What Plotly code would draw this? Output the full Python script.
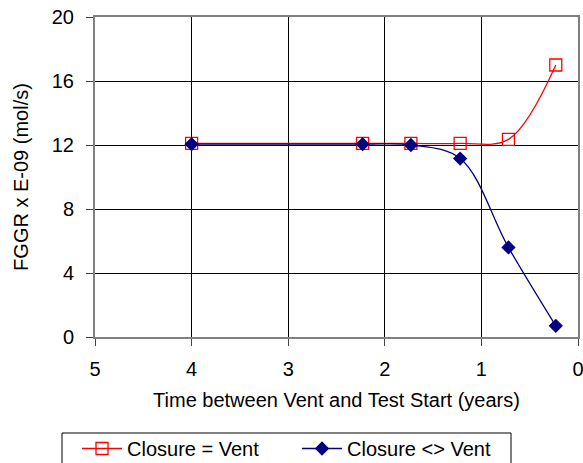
import plotly.graph_objects as go

# Data
years_vent = [4.0, 2.23, 1.73, 1.22, 0.72, 0.23]
fggr_vent = [12.1, 12.1, 12.1, 12.1, 12.35, 17.0]

years_other = [4.0, 2.23, 1.73, 1.22, 0.72, 0.23]
fggr_other = [12.05, 12.05, 12.0, 11.15, 5.6, 0.7]

series_names = ["Closure = Vent", "Closure <> Vent"]
x_ticks = [5, 4, 3, 2, 1, 0]
y_ticks = [0, 4, 8, 12, 16, 20]

FONT = "Liberation Sans, Arial, sans-serif"
FS = 20

fig = go.Figure()
fig.add_trace(go.Scatter(
    x=years_vent, y=fggr_vent, name=series_names[0],
    mode="lines+markers",
    line=dict(color="#FF0000", width=1.3, shape="spline", smoothing=1.0),
    marker=dict(symbol="square-open", size=12, color="#FF0000",
                line=dict(width=1.3, color="#FF0000")),
))
fig.add_trace(go.Scatter(
    x=years_other, y=fggr_other, name=series_names[1],
    mode="lines+markers",
    line=dict(color="#000080", width=1.3, shape="spline", smoothing=1.0),
    marker=dict(symbol="diamond", size=11, color="#000080"),
))

# legend frame (page pixels converted to paper fraction of the plot area)
fig.add_shape(type="rect", xref="paper", yref="paper",
              x0=(62 - 95) / 483, x1=(511 - 95) / 483,
              y0=(337 - 433) / 320, y1=(337 - 480) / 320,
              line=dict(color="black", width=1), fillcolor="white", layer="below")

fig.update_layout(
    width=583, height=463,
    margin=dict(l=95, r=5, t=17, b=126, autoexpand=False),
    paper_bgcolor="white", plot_bgcolor="white",
    font=dict(family=FONT, size=FS, color="black"),
    showlegend=True,
    legend=dict(
        orientation="h", x=(77 - 95) / 483, xanchor="left",
        y=(337 - 429) / 320, yanchor="top",
        borderwidth=0, bgcolor="rgba(0,0,0,0)",
        font=dict(size=FS, family=FONT), itemwidth=40, entrywidth=165,
    ),
    xaxis=dict(
        range=[5, 0], tickvals=x_ticks, ticktext=[str(v) for v in x_ticks],
        showgrid=True, gridcolor="black", gridwidth=1,
        showline=True, linecolor="#808080", linewidth=2, mirror=True,
        ticks="outside", ticklen=7, tickcolor="#404040",
        ticklabelstandoff=6, ticklabeloverflow="allow", tickfont=dict(size=FS),
        zeroline=False,
        title=dict(text="Time between Vent and Test Start (years)", standoff=14,
                   font=dict(size=FS, family=FONT)),
    ),
    yaxis=dict(
        range=[0, 20], tickvals=y_ticks,
        showgrid=True, gridcolor="black", gridwidth=1,
        showline=True, linecolor="#808080", linewidth=2, mirror=True,
        ticks="outside", ticklen=7, tickcolor="#404040",
        ticklabelstandoff=8, ticklabeloverflow="allow", tickfont=dict(size=FS),
        zeroline=False,
        title=dict(text="FGGR x E-09 (mol/s)", standoff=18,
                   font=dict(size=FS, family=FONT)),
    ),
)

fig.write_html("out.html")
